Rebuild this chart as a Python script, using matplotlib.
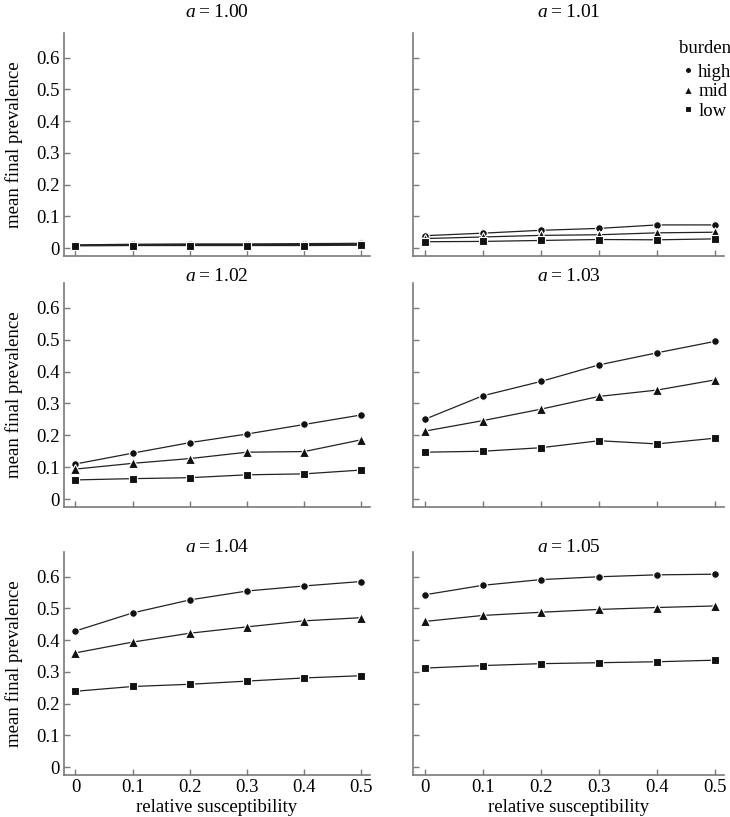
import matplotlib.pyplot as plt

plt.rcParams["font.family"] = "Liberation Serif"
plt.rcParams["mathtext.fontset"] = "custom"
plt.rcParams["mathtext.rm"] = "Liberation Serif"
plt.rcParams["mathtext.it"] = "Liberation Serif:italic"

rel_susc = [0, 0.1, 0.2, 0.3, 0.4, 0.5]
a_values = ["1.00", "1.01", "1.02", "1.03", "1.04", "1.05"]

high = [
    [0.010, 0.012, 0.013, 0.013, 0.014, 0.015],
    [0.039, 0.047, 0.056, 0.062, 0.073, 0.073],
    [0.110, 0.144, 0.177, 0.204, 0.234, 0.264],
    [0.250, 0.324, 0.369, 0.421, 0.459, 0.495],
    [0.429, 0.486, 0.527, 0.555, 0.571, 0.585],
    [0.543, 0.573, 0.591, 0.600, 0.606, 0.608],
]
mid = [
    [0.009, 0.010, 0.011, 0.011, 0.011, 0.012],
    [0.030, 0.035, 0.040, 0.042, 0.048, 0.050],
    [0.094, 0.112, 0.127, 0.147, 0.149, 0.186],
    [0.213, 0.246, 0.282, 0.322, 0.342, 0.374],
    [0.360, 0.394, 0.422, 0.442, 0.461, 0.471],
    [0.459, 0.478, 0.488, 0.497, 0.503, 0.508],
]
low = [
    [0.007, 0.008, 0.008, 0.008, 0.008, 0.009],
    [0.020, 0.021, 0.024, 0.027, 0.026, 0.029],
    [0.060, 0.064, 0.067, 0.076, 0.079, 0.091],
    [0.147, 0.150, 0.161, 0.183, 0.173, 0.191],
    [0.239, 0.254, 0.261, 0.271, 0.281, 0.288],
    [0.312, 0.320, 0.326, 0.329, 0.332, 0.337],
]

W, H = 730, 817
fig = plt.figure(figsize=(W / 100, H / 100), dpi=100)

col_x = [(64, 370), (413, 724)]
row_y = [(33, 256), (283, 507), (552, 775)]
title_y = [1.094, 1.027, 1.022]

spine_col = "#7a7a7a"
line_col = "#222222"
series = [("high", high, "o", 5.5), ("mid", mid, "^", 6.5), ("low", low, "s", 5.2)]

for i in range(6):
    r, c = divmod(i, 2)
    x0, x1 = col_x[c]
    y0, y1 = row_y[r]
    ax = fig.add_axes([x0 / W, 1 - y1 / H, (x1 - x0) / W, (y1 - y0) / H])

    handles = []
    for name, data, mk, ms in series:
        h, = ax.plot(rel_susc, data[i], color=line_col, lw=0.9, marker=mk, ms=ms,
                     mfc="#111111", mec="white", mew=0.8, label=name)
        handles.append(h)

    ax.set_xlim(-0.02, 0.515)
    ax.set_ylim(-0.025, 0.678)
    ax.set_xticks(rel_susc)
    ax.set_yticks([0, 0.1, 0.2, 0.3, 0.4, 0.5, 0.6])
    ax.tick_params(direction="in", length=4, width=1, color=spine_col, labelsize=13.5, pad=3)
    for s in ("top", "right"):
        ax.spines[s].set_visible(False)
    for s in ("left", "bottom"):
        ax.spines[s].set_color(spine_col)
        ax.spines[s].set_linewidth(1.2)

    if c == 0:
        ax.set_yticklabels(["0", "0.1", "0.2", "0.3", "0.4", "0.5", "0.6"])
        ax.set_ylabel("mean final prevalence", fontsize=13.5)
        ax.yaxis.set_label_coords(-0.135, 0.5)
    else:
        ax.set_yticklabels([])
    if r == 2:
        ax.set_xticklabels(["0", "0.1", "0.2", "0.3", "0.4", "0.5"])
        ax.set_xlabel("relative susceptibility", fontsize=13.5, labelpad=2)
    else:
        ax.set_xticklabels([])

    ax.text(0.5, title_y[r], r"$a$" + "\u2009=\u2009" + a_values[i], transform=ax.transAxes,
            ha="center", va="center", fontsize=14)

    if i == 1:
        leg = ax.legend(handles=handles, title="burden", loc="upper right",
                        bbox_to_anchor=(1.06, 1.02), frameon=False, fontsize=13.5,
                        title_fontsize=13.5, handlelength=0.4, handletextpad=0.35,
                        labelspacing=0.12, borderpad=0.1, markerscale=0.8)
        for lh in leg.legend_handles:
            lh.set_linestyle("none")
        leg._legend_box.align = "right"
        leg._legend_box.sep = 5

fig.savefig("out.png", dpi=100)
